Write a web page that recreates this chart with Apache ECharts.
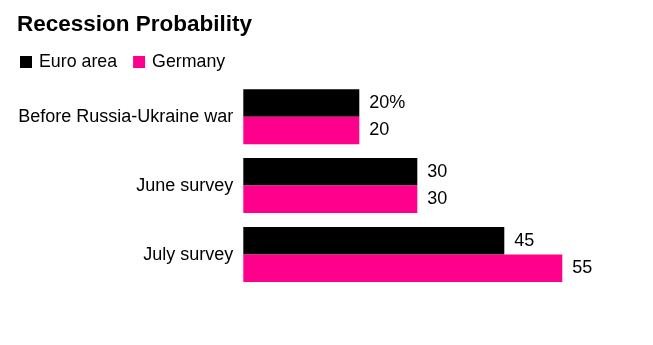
<!DOCTYPE html>
<html><head><meta charset="utf-8">
<script src="https://cdn.jsdelivr.net/npm/echarts@6/dist/echarts.min.js"></script>
<style>html,body{margin:0;padding:0;background:#fff}#c{width:653px;height:345px}</style>
</head><body><div id="c"></div>
<script>
const categories = ["Before Russia-Ukraine war", "June survey", "July survey"];
const euroArea = [20, 30, 45];
const germany = [20, 30, 55];
const seriesNames = ["Euro area", "Germany"];

const font = "'Liberation Sans', Arial, sans-serif";
const chart = echarts.init(document.getElementById('c'), null, {renderer: 'canvas'});
function lbl(p) { return (p.seriesIndex === 0 && p.dataIndex === 0) ? p.value + '%' : String(p.value); }
chart.setOption({
  animation: false,
  title: {text: 'Recession Probability', left: 17, top: 13, padding: 0,
    textStyle: {fontFamily: font, fontWeight: 'bold', fontSize: 22.5, color: '#000'}},
  legend: {left: 20, top: 53, padding: 0, itemWidth: 12, itemHeight: 12, itemGap: 16, icon: 'rect',
    textStyle: {fontFamily: font, fontSize: 17.8, color: '#000', padding: [0, 0, 0, 2]},
    data: seriesNames},
  grid: {left: 243.3, top: 82.2, width: 348, height: 206.8, containLabel: false},
  xAxis: {type: 'value', min: 0, max: 60, show: false},
  yAxis: {type: 'category', data: categories, inverse: true,
    axisLine: {show: false}, axisTick: {show: false},
    axisLabel: {fontFamily: font, fontSize: 18, color: '#000', margin: 10}},
  series: [
    {name: seriesNames[0], type: 'bar', data: euroArea, barWidth: 27.5, barGap: '0%',
     itemStyle: {color: '#000'},
     label: {show: true, position: 'right', distance: 10, formatter: lbl,
       fontFamily: font, fontSize: 18, color: '#000'}},
    {name: seriesNames[1], type: 'bar', data: germany, barWidth: 27.5, barGap: '0%',
     itemStyle: {color: '#ff008c'},
     label: {show: true, position: 'right', distance: 10, formatter: lbl,
       fontFamily: font, fontSize: 18, color: '#000'}}
  ]
});
</script></body></html>
